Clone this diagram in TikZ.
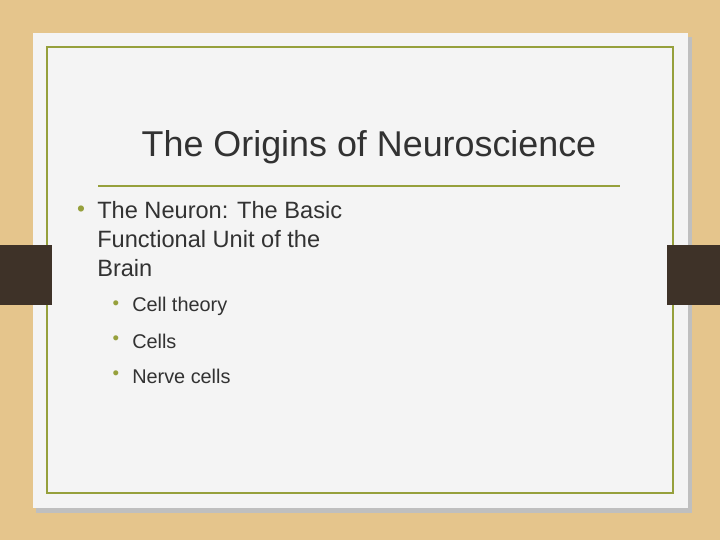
\documentclass[tikz,border=0pt]{standalone}
\usepackage{fontspec}
\setmainfont{Liberation Sans}
\definecolor{wood}{RGB}{229,197,140}
\definecolor{olive}{RGB}{150,160,60}
\definecolor{tab}{RGB}{62,50,40}
\definecolor{txt}{RGB}{50,50,50}
\definecolor{paper}{RGB}{244,244,244}
\tikzset{
  lvlone/.style={anchor=north west,align=left,text=txt,font=\fontsize{17.7pt}{21.75pt}\selectfont,inner sep=0pt},
  lvltwo/.style={anchor=west,text=txt,font=\fontsize{14.9pt}{17pt}\selectfont,inner sep=0pt},
  dot/.style={anchor=center,text=olive,inner sep=0pt}
}
\begin{document}
\begin{tikzpicture}[x=0.75pt,y=-0.75pt]
\useasboundingbox (0,0) rectangle (720,540);
\fill[wood] (0,0) rectangle (720,540);
\fill[black!25] (36,37) rectangle (692,513);
\fill[paper] (33,33) rectangle (688,508);
\draw[olive,line width=1.2pt] (47,47) rectangle (673,493);
\fill[tab] (0,245) rectangle (52,305);
\fill[tab] (667,245) rectangle (720,305);
\node[text=txt,font=\fontsize{26.9pt}{30pt}\selectfont] (title) at (369,147) {The Origins of Neuroscience};
\draw[olive,line width=1pt] (98,186) -- (620,186);
\node[dot,font=\fontsize{17pt}{17pt}\selectfont] (b1) at (81,211) {•};
\node[lvlone] (t1) at (97,201) {The Neuron: The Basic\\Functional Unit of the\\Brain};
\node[dot,font=\fontsize{14pt}{14pt}\selectfont] (b2) at (116,305) {•};
\node[lvltwo] (t2) at (132,306) {Cell theory};
\node[dot,font=\fontsize{14pt}{14pt}\selectfont] (b3) at (116,340) {•};
\node[lvltwo] (t3) at (132,341) {Cells};
\node[dot,font=\fontsize{14pt}{14pt}\selectfont] (b4) at (116,375) {•};
\node[lvltwo] (t4) at (132,376) {Nerve cells};
\end{tikzpicture}
\end{document}
